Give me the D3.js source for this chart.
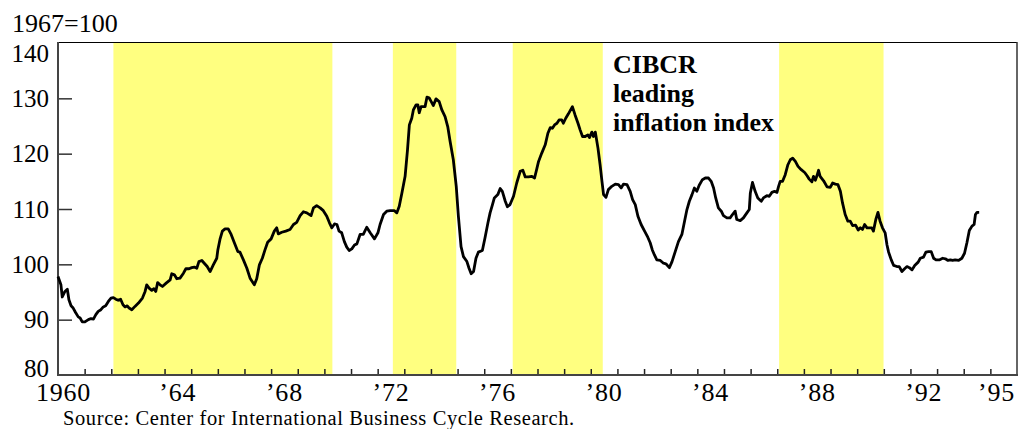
<!DOCTYPE html>
<html>
<head>
<meta charset="utf-8">
<script src="https://cdn.jsdelivr.net/npm/d3@7"></script>
<style>
  html, body { margin: 0; padding: 0; background: #fff; }
  svg { display: block; }
  text { font-family: "Liberation Serif", "Times New Roman", serif; fill: #000; }
</style>
</head>
<body>
<svg id="chart" width="1018" height="429"></svg>
<script>
// ---- data ----
const years = [
  1960.00,1960.11,1960.16,1960.26,1960.35,1960.41,1960.49,1960.57,1960.66,1960.76,1960.83,1960.91,
  1961.01,1961.14,1961.24,1961.33,1961.42,1961.51,1961.61,1961.70,1961.79,1961.89,1961.99,
  1962.08,1962.17,1962.26,1962.35,1962.44,1962.52,1962.60,1962.67,1962.77,1962.89,
  1963.02,1963.17,1963.27,1963.33,1963.42,1963.52,1963.60,1963.67,1963.74,1963.83,1963.92,
  1964.06,1964.21,1964.27,1964.37,1964.46,1964.58,1964.71,1964.80,1964.92,
  1965.02,1965.12,1965.21,1965.29,1965.40,1965.49,1965.60,1965.71,1965.83,1965.96,
  1966.00,1966.08,1966.17,1966.27,1966.39,1966.50,1966.62,1966.75,1966.83,1966.96,
  1967.09,1967.21,1967.37,1967.46,1967.56,1967.67,1967.77,1967.87,
  1968.00,1968.12,1968.21,1968.27,1968.40,1968.55,1968.71,1968.84,1968.96,
  1969.09,1969.21,1969.34,1969.50,1969.59,1969.71,1969.84,1969.96,
  1970.09,1970.19,1970.28,1970.38,1970.47,1970.55,1970.65,1970.75,1970.84,1970.93,
  1971.03,1971.13,1971.22,1971.34,1971.46,1971.59,1971.72,1971.88,
  1972.01,1972.09,1972.22,1972.34,1972.47,1972.63,1972.72,1972.81,1972.91,
  1973.03,1973.12,1973.19,1973.28,1973.34,1973.44,1973.51,1973.56,1973.63,1973.78,1973.85,1973.93,
  1974.01,1974.09,1974.19,1974.31,1974.41,1974.53,1974.63,1974.72,1974.84,1974.95,
  1975.03,1975.13,1975.22,1975.35,1975.43,1975.51,1975.60,1975.69,1975.78,1975.93,
  1976.03,1976.14,1976.22,1976.31,1976.38,1976.51,1976.60,1976.68,1976.79,1976.87,1976.97,
  1977.10,1977.22,1977.35,1977.45,1977.54,1977.66,1977.79,1977.89,1977.98,
  1978.04,1978.16,1978.29,1978.39,1978.48,1978.56,1978.64,1978.73,1978.81,1978.91,1978.97,
  1979.06,1979.16,1979.31,1979.41,1979.52,1979.60,1979.69,1979.79,1979.89,1979.95,
  1980.04,1980.10,1980.17,1980.27,1980.35,1980.42,1980.48,1980.57,1980.66,1980.79,1980.92,
  1981.04,1981.14,1981.23,1981.36,1981.48,1981.57,1981.67,1981.77,1981.89,
  1982.02,1982.14,1982.23,1982.31,1982.39,1982.48,1982.61,1982.73,1982.82,1982.95,
  1983.05,1983.17,1983.29,1983.42,1983.52,1983.61,1983.70,1983.80,1983.89,1983.98,
  1984.07,1984.19,1984.30,1984.42,1984.52,1984.61,1984.69,1984.79,1984.90,1984.98,
  1985.11,1985.23,1985.32,1985.42,1985.48,1985.61,1985.73,1985.86,1985.95,1985.99,
  1986.07,1986.17,1986.27,1986.40,1986.48,1986.61,1986.70,1986.80,1986.90,1986.99,
  1987.05,1987.11,1987.20,1987.30,1987.40,1987.49,1987.58,1987.68,1987.78,1987.90,
  1988.03,1988.12,1988.20,1988.30,1988.36,1988.43,1988.49,1988.55,1988.61,1988.74,1988.87,1988.99,
  1989.08,1989.18,1989.28,1989.37,1989.45,1989.55,1989.65,1989.74,1989.83,1989.94,
  1990.04,1990.12,1990.20,1990.28,1990.37,1990.45,1990.55,1990.61,1990.70,1990.78,1990.86,1990.95,
  1991.05,1991.12,1991.18,1991.28,1991.37,1991.49,1991.58,1991.68,1991.78,1991.87,1991.96,
  1992.06,1992.16,1992.29,1992.37,1992.49,1992.58,1992.68,1992.78,1992.87,1992.96,
  1993.08,1993.21,1993.31,1993.41,1993.50,1993.58,1993.68,1993.81,1993.93,
  1994.03,1994.12,1994.21,1994.31,1994.39,1994.44,1994.50,1994.58
];
const values = [
  97.8,96.3,94.1,95.1,95.5,93.6,92.5,92.1,91.3,90.5,90.3,89.6,
  89.6,90.0,90.2,90.1,90.9,91.5,91.8,92.3,92.5,93.3,93.9,
  94.0,93.7,93.5,93.7,92.7,92.3,92.5,92.1,91.8,92.4,
  93.0,93.9,95.1,96.3,95.7,95.3,95.6,95.1,96.7,96.3,96.0,
  96.6,97.2,98.3,98.1,97.4,97.5,98.4,99.2,99.2,
  99.4,99.5,99.3,100.5,100.7,100.2,99.6,98.7,99.9,101.1,
  102.6,104.5,106.0,106.4,106.4,105.4,103.9,102.3,102.2,100.8,
  99.3,97.5,96.3,97.4,99.9,101.1,102.6,104.0,
  104.6,106.0,106.6,105.5,105.8,106.0,106.3,107.2,107.6,
  108.8,109.5,109.3,108.8,110.2,110.6,110.2,109.7,
  108.7,107.5,106.6,107.3,107.2,106.0,105.7,104.1,103.1,102.5,
  102.8,103.5,103.7,105.4,105.4,106.7,105.7,104.6,
  105.7,107.2,109.0,109.6,109.7,109.7,109.3,110.5,112.9,
  115.9,120.7,125.2,126.4,127.9,128.8,128.8,127.4,128.5,128.5,130.2,130.1,
  129.4,128.7,129.9,129.4,127.9,126.7,124.9,122.2,118.9,114.1,
  108.7,103.2,101.4,100.5,99.3,98.3,98.7,101.1,102.2,102.5,
  104.8,107.5,109.3,110.8,112.0,112.6,113.7,113.2,111.4,110.4,110.8,
  112.3,114.7,116.8,117.0,115.8,115.8,115.9,115.6,117.4,
  118.6,120.1,121.6,123.7,124.7,124.6,125.2,125.5,126.1,126.1,125.5,
  126.4,127.2,128.5,127.0,125.5,124.3,123.1,123.1,123.4,122.9,
  123.9,123.1,123.9,121.0,118.0,115.0,112.6,112.1,113.5,114.1,114.5,
  114.4,113.8,114.5,114.4,113.2,111.7,110.8,108.7,107.2,
  106.0,104.9,103.9,102.6,101.7,100.8,100.7,100.2,100.1,99.4,
  100.5,102.3,104.1,105.4,107.8,109.9,111.4,112.6,113.8,113.2,
  114.3,115.3,115.6,115.6,115.0,113.8,112.0,110.2,109.6,108.8,
  108.4,108.4,109.0,109.6,108.1,107.9,108.4,109.3,109.9,112.9,
  114.8,113.2,112.0,111.4,112.0,112.4,112.3,113.0,113.2,113.0,
  114.1,115.0,115.0,116.2,118.0,118.9,119.2,118.6,117.7,117.1,
  116.6,116.0,115.4,114.9,115.9,115.2,116.0,117.0,115.9,115.1,114.0,113.9,
  114.7,114.5,114.4,113.2,111.1,109.0,107.8,107.8,107.0,107.1,
  106.2,106.6,106.3,107.2,106.6,106.6,106.6,106.0,108.1,109.4,107.8,106.6,
  105.7,103.5,102.2,100.8,99.8,99.6,99.6,98.7,99.2,99.6,99.4,
  99.0,99.8,100.4,101.1,101.3,102.2,102.3,102.3,101.1,100.8,
  100.8,101.1,101.0,100.7,100.8,100.7,100.8,100.7,101.1,
  102.0,103.9,106.1,106.9,107.2,109.0,109.4,109.4
];
const bandStarts = [1962.08, 1972.57, 1977.07, 1987.07];
const bandEnds   = [1970.30, 1974.95, 1980.45, 1990.99];
const yTickValues = [80, 90, 100, 110, 120, 130, 140];
const xLabelYears = [1960, 1964, 1968, 1972, 1976, 1980, 1984, 1988, 1992, 1995];
const xLabelTexts = ["1960", "\u201964", "\u201968", "\u201972", "\u201976", "\u201980", "\u201984", "\u201988", "\u201992", "\u201995"];
const unitLabel = "1967=100";
const titleLines = ["CIBCR", "leading", "inflation index"];
const sourceText = "Source: Center for International Business Cycle Research.";

// ---- layout ----
const L = 58, R = 1017, T = 43, B = 375;
const x = d3.scaleLinear().domain([1960, 1996]).range([L, R]);
const y = d3.scaleLinear().domain([80, 140]).range([B, T]);
const svg = d3.select("#chart");

// bands
svg.append("g").selectAll("rect").data(bandStarts).join("rect")
  .attr("x", (d) => x(d))
  .attr("y", T)
  .attr("width", (d, i) => x(bandEnds[i]) - x(d))
  .attr("height", B - T)
  .attr("fill", "#ffff80");

// frame top & right
svg.append("line").attr("x1", L).attr("x2", R).attr("y1", T - 0.5).attr("y2", T - 0.5)
  .attr("stroke", "#000").attr("stroke-width", 1.2);
svg.append("line").attr("x1", R).attr("x2", R).attr("y1", T - 1).attr("y2", B)
  .attr("stroke", "#333").attr("stroke-width", 1.5);

// y axis
const yAxis = d3.axisRight(y).tickValues(yTickValues.filter(v => v > 80 && v < 140))
  .tickSize(14).tickFormat("");
const gy = svg.append("g").attr("transform", `translate(${L},0)`).call(yAxis);
gy.select(".domain").remove();
gy.selectAll(".tick line").attr("stroke", "#333").attr("stroke-width", 1.5);
svg.append("line").attr("x1", L).attr("x2", L).attr("y1", T - 1).attr("y2", B + 1)
  .attr("stroke", "#444").attr("stroke-width", 2);
// end labels nudged inward (as in the original) so they clear the frame corners
const yLabelShift = v => v === 140 ? 10 : (v === 80 ? -6.5 : 0);
svg.append("g").selectAll("text").data(yTickValues).join("text")
  .attr("x", 49).attr("y", d => y(d) + yLabelShift(d)).attr("dy", "0.34em")
  .attr("text-anchor", "end").attr("font-size", 25).text(d => d);

// x axis
const xAxis = d3.axisTop(x).tickValues(d3.range(1961, 1996)).tickSize(6).tickFormat("");
const gx = svg.append("g").attr("transform", `translate(0,${B})`).call(xAxis);
gx.select(".domain").remove();
gx.selectAll(".tick line").attr("stroke", "#222").attr("stroke-width", 1.5);
svg.append("line").attr("x1", L - 1).attr("x2", R + 1).attr("y1", B).attr("y2", B)
  .attr("stroke", "#444").attr("stroke-width", 2);
const nX = xLabelYears.length;
svg.append("g").selectAll("text").data(xLabelYears).join("text")
  .attr("x", (d, i) => i === 0 ? x(d) + 5.5 : (i === nX - 1 ? R - 2 : x(d + 0.5)))
  .attr("y", 401)
  .attr("text-anchor", (d, i) => i === nX - 1 ? "end" : "middle")
  .attr("font-size", 26).attr("letter-spacing", 0.8)
  .text((d, i) => xLabelTexts[i]);

// line
const pts = years.map((d, i) => [d, values[i]]);
svg.append("path").datum(pts)
  .attr("fill", "none").attr("stroke", "#000").attr("stroke-width", 2.8)
  .attr("stroke-linejoin", "round")
  .attr("d", d3.line().x(d => x(d[0])).y(d => y(d[1])));

// texts
svg.append("text").attr("x", 12).attr("y", 32).attr("font-size", 26).text(unitLabel);
svg.append("g").selectAll("text").data(titleLines).join("text")
  .attr("x", 613).attr("y", (d, i) => 73 + i * 29)
  .attr("font-size", 26).attr("font-weight", "bold").text(d => d);
svg.append("text").attr("x", 63).attr("y", 425).attr("font-size", 20.5)
  .attr("letter-spacing", 0.6).text(sourceText);
</script>
</body>
</html>
